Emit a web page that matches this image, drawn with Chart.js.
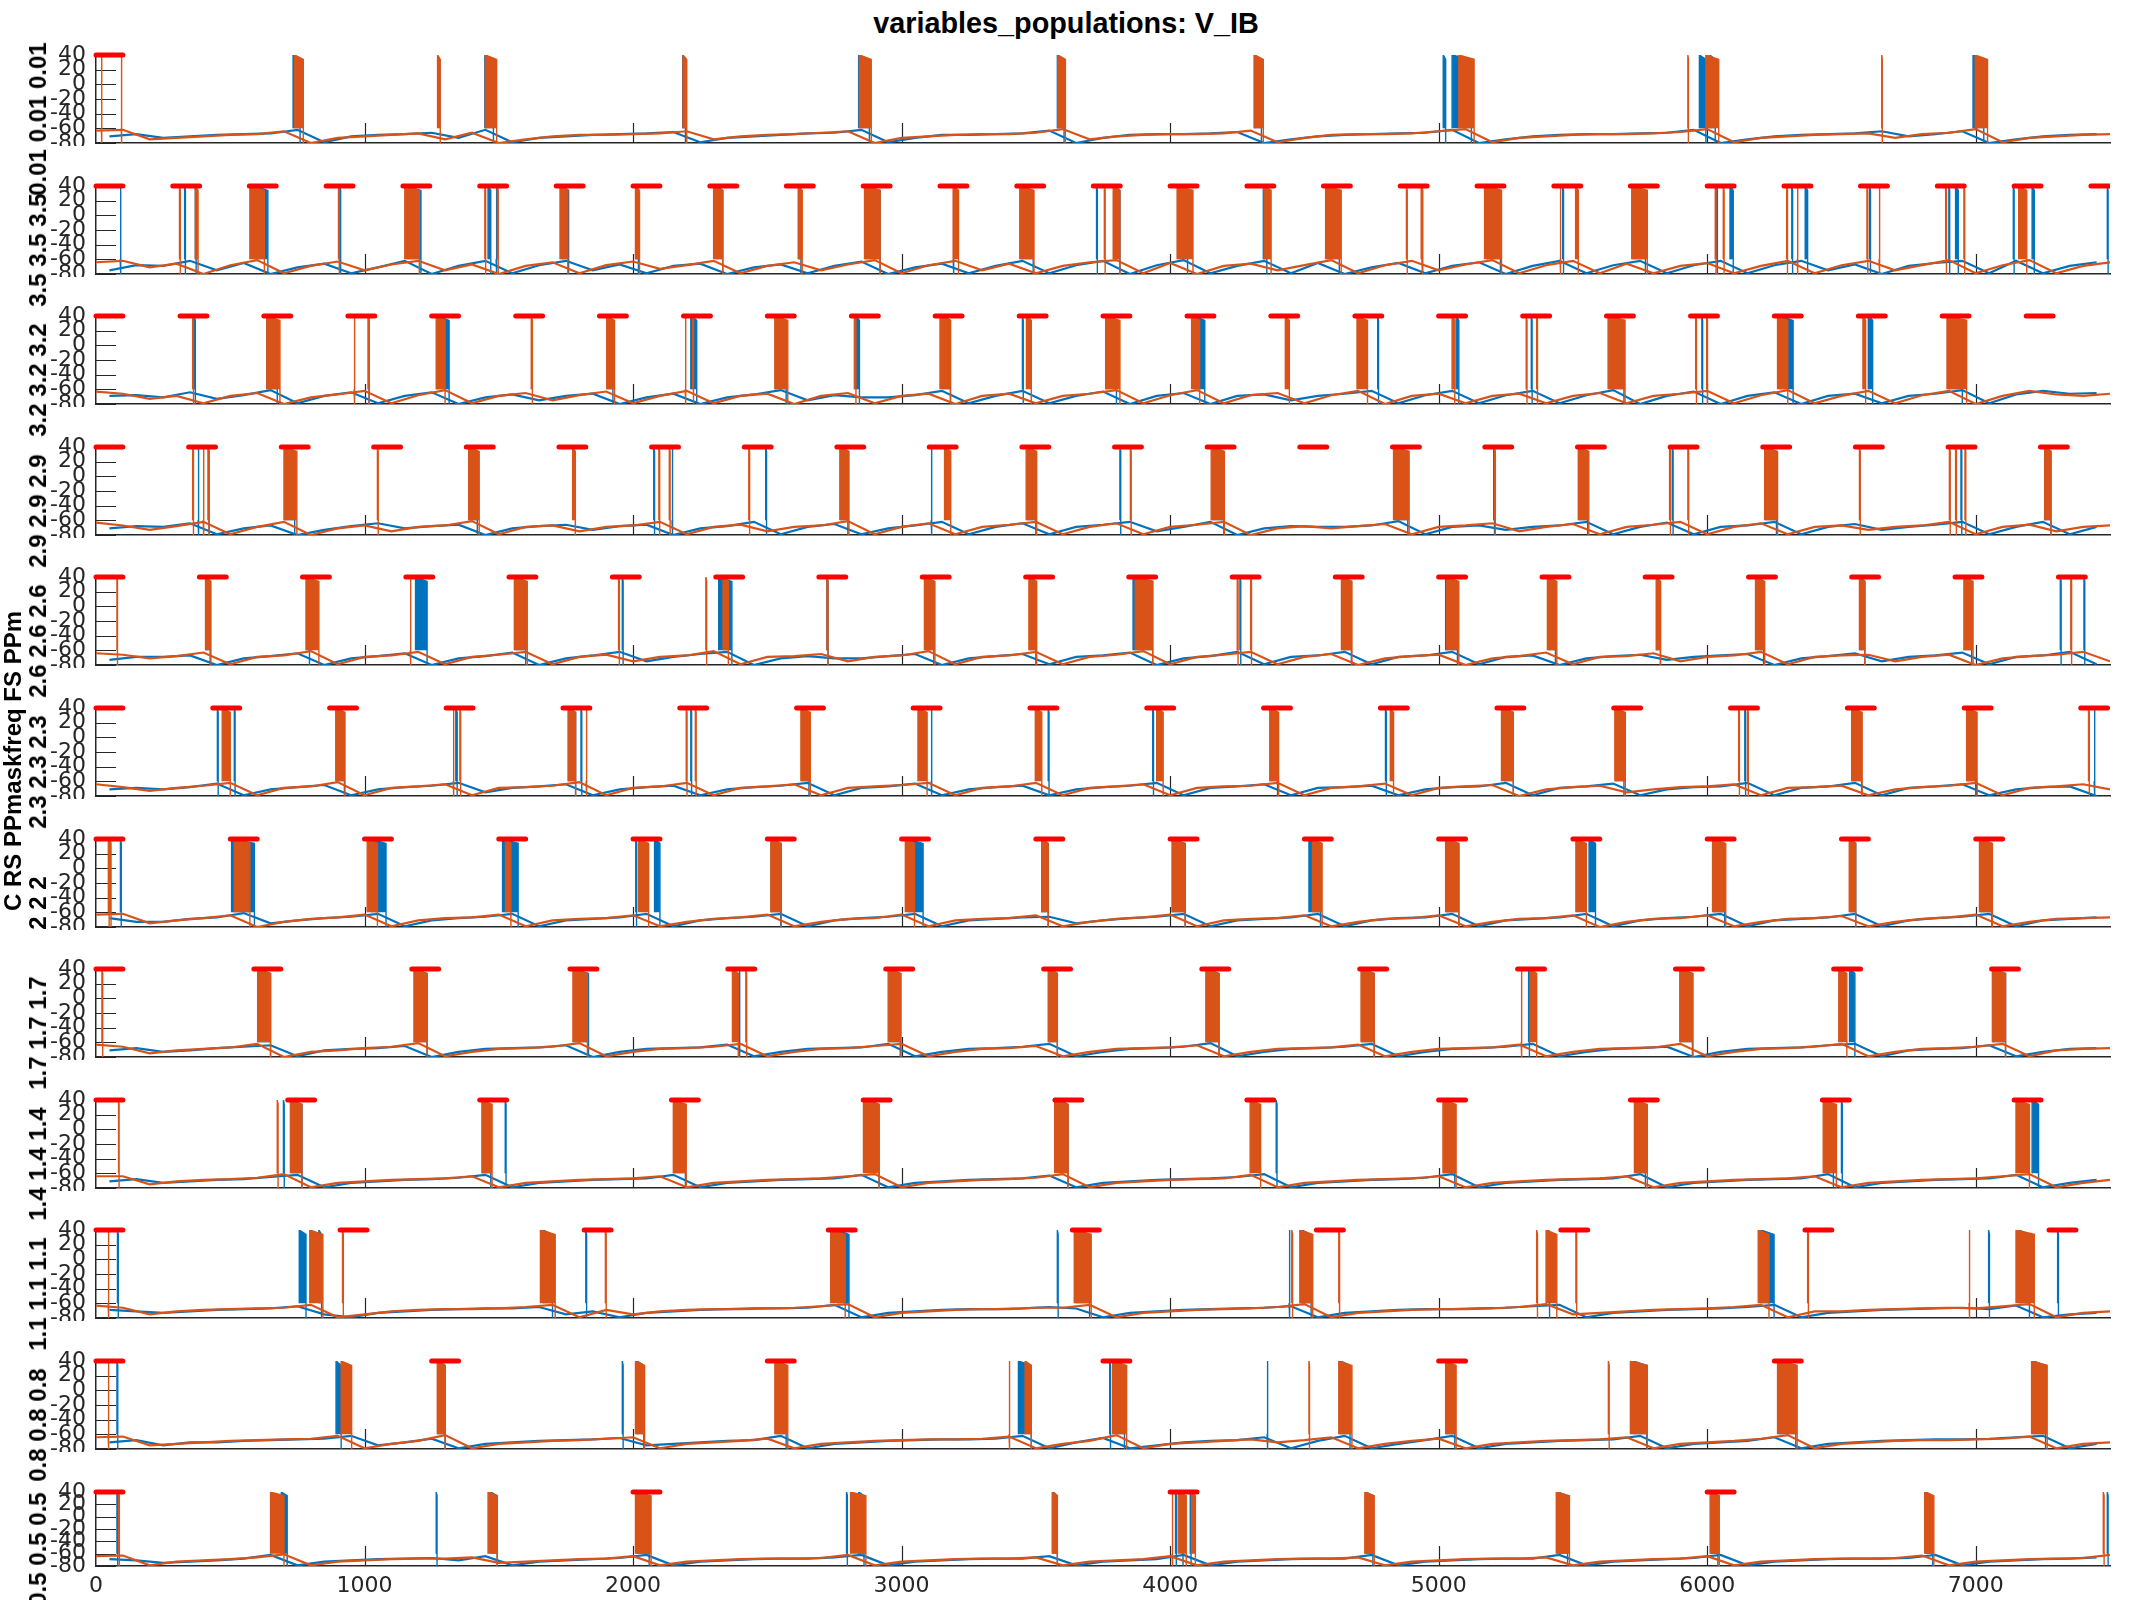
<!DOCTYPE html>
<html><head><meta charset="utf-8">
<script src="https://cdn.jsdelivr.net/npm/chart.js@4.4.1/dist/chart.umd.min.js"></script>
<style>
body{margin:0;background:#fff;}
#fig{position:relative;width:2133px;height:1600px;background:#fff;overflow:hidden;}
#fig canvas{position:absolute;left:0;}
.lbl{position:absolute;font-family:'Liberation Sans',Arial,sans-serif;font-weight:bold;color:#000;white-space:nowrap;transform:translate(-50%,-50%) rotate(-90deg);line-height:1;}
#title{position:absolute;left:1066px;top:9px;transform:translateX(-50%);font-family:'Liberation Sans',Arial,sans-serif;font-weight:bold;font-size:28.8px;color:#000;white-space:nowrap;line-height:1;}
</style></head><body><div id="fig"><div id="title">variables_populations: V_IB</div></div>
<script>
// ---------------- DATA ----------------
const stimFreq = ['0.01','3.5','3.2','2.9','2.6','2.3','2','1.7','1.4','1.1','0.8','0.5'];
const stimDuration = 100;
const yTicks = [-80,-60,-40,-20,0,20,40];
const xTicks = [0,1000,2000,3000,4000,5000,6000,7000];
const burstLevels = [-60, 40, 34, -80]; // floor, first spike peak, last spike peak, after-burst trough (mV)

const stim1 = [0];
const stim2 = [0,286,571,857,1143,1429,1714,2000,2286,2571,2857,3143,3429,3714,4000,4286,4571,4857,5143,5429,5714,6000,6286,6571,6857,7143,7429];
const stim3 = [0,313,625,938,1250,1563,1875,2188,2500,2813,3125,3438,3750,4063,4375,4688,5000,5313,5625,5938,6250,6563,6875,7188];
const stim4 = [0,345,690,1034,1379,1724,2069,2414,2759,3103,3448,3793,4138,4483,4828,5172,5517,5862,6207,6552,6897,7241];
const stim5 = [0,385,769,1154,1538,1923,2308,2692,3077,3462,3846,4231,4615,5000,5385,5769,6154,6538,6923,7308];
const stim6 = [0,435,870,1304,1739,2174,2609,3043,3478,3913,4348,4783,5217,5652,6087,6522,6957,7391];
const stim7 = [0,500,1000,1500,2000,2500,3000,3500,4000,4500,5000,5500,6000,6500,7000];
const stim8 = [0,588,1176,1765,2353,2941,3529,4118,4706,5294,5882,6471,7059];
const stim9 = [0,714,1429,2143,2857,3571,4286,5000,5714,6429,7143];
const stim10 = [0,909,1818,2727,3636,4545,5455,6364,7273];
const stim11 = [0,1250,2500,3750,5000,6250];
const stim12 = [0,2000,4000,6000];

// sub-threshold membrane potential, orange sampled at 0,100,...,7500 ms; blue at 50,150,...,7450 ms
const v1_orange = [-63,-62,-75,-73,-71,-69,-68,-64,-80,-73,-71,-69,-67,-75,-66,-80,-75,-71,-69,-69,-68,-67,-64,-75,-71,-69,-68,-66,-64,-80,-73,-71,-69,-68,-68,-66,-61,-75,-71,-69,-68,-68,-67,-63,-79,-73,-69,-68,-68,-67,-64,-61,-79,-73,-71,-69,-68,-68,-67,-65,-61,-79,-73,-71,-69,-68,-67,-73,-68,-66,-61,-79,-73,-71,-69,-68];
const v1_blue = [-71,-68,-73,-71,-69,-68,-67,-62,-79,-71,-69,-68,-66,-73,-62,-79,-73,-71,-69,-68,-67,-65,-79,-73,-71,-69,-67,-66,-62,-79,-73,-69,-69,-68,-67,-63,-80,-73,-69,-68,-68,-67,-65,-80,-75,-71,-69,-68,-67,-66,-62,-80,-75,-71,-69,-68,-68,-67,-66,-62,-80,-75,-71,-69,-68,-67,-64,-71,-68,-64,-80,-75,-71,-69,-68];
const v2_orange = [-64,-62,-71,-66,-80,-68,-61,-79,-69,-63,-75,-67,-62,-75,-67,-80,-69,-64,-79,-68,-63,-73,-68,-62,-79,-69,-64,-75,-67,-61,-79,-68,-62,-75,-66,-79,-69,-64,-61,-79,-65,-80,-69,-66,-75,-68,-61,-79,-68,-62,-75,-67,-61,-79,-68,-62,-79,-66,-79,-69,-65,-79,-69,-62,-79,-68,-62,-75,-68,-61,-79,-68,-61,-79,-69,-64];
const v2_blue = [-75,-68,-69,-62,-75,-65,-80,-71,-66,-79,-71,-62,-80,-69,-62,-79,-68,-62,-75,-67,-79,-69,-66,-80,-71,-67,-79,-69,-63,-80,-71,-66,-79,-69,-62,-79,-68,-62,-80,-68,-61,-79,-69,-62,-79,-65,-80,-71,-65,-79,-69,-64,-80,-69,-62,-79,-68,-62,-79,-68,-62,-79,-68,-62,-75,-67,-80,-69,-65,-62,-79,-62,-79,-69,-64];
const v3_orange = [-63,-66,-73,-69,-79,-69,-65,-80,-71,-67,-62,-79,-68,-61,-79,-69,-65,-75,-68,-63,-79,-69,-62,-79,-69,-66,-80,-69,-65,-79,-69,-66,-80,-69,-66,-79,-69,-66,-61,-79,-68,-61,-79,-68,-65,-79,-68,-62,-80,-69,-66,-79,-69,-66,-79,-69,-65,-79,-69,-66,-62,-79,-68,-61,-79,-69,-62,-79,-68,-62,-80,-69,-62,-67,-69,-66];
const v3_blue = [-69,-68,-71,-64,-73,-68,-61,-79,-69,-64,-79,-69,-64,-80,-71,-67,-75,-69,-66,-80,-71,-66,-80,-71,-67,-61,-75,-68,-71,-71,-68,-62,-79,-69,-62,-79,-69,-63,-80,-69,-65,-80,-69,-67,-75,-69,-66,-62,-79,-68,-62,-79,-68,-62,-79,-68,-61,-80,-69,-63,-80,-69,-64,-80,-69,-66,-79,-69,-66,-61,-79,-67,-62,-66,-65];
const v4_orange = [-63,-67,-73,-68,-62,-79,-69,-62,-80,-71,-67,-75,-69,-67,-61,-79,-69,-67,-75,-69,-67,-62,-79,-69,-66,-75,-69,-67,-61,-79,-69,-64,-79,-69,-66,-62,-79,-69,-64,-79,-69,-66,-62,-80,-71,-68,-71,-68,-65,-79,-69,-67,-64,-75,-69,-65,-79,-69,-66,-62,-79,-69,-64,-79,-69,-67,-73,-69,-67,-62,-79,-69,-66,-75,-69,-67];
const v4_blue = [-71,-68,-69,-64,-79,-71,-67,-80,-73,-68,-64,-71,-68,-66,-80,-71,-68,-66,-73,-68,-66,-80,-71,-68,-62,-79,-69,-65,-79,-71,-67,-62,-79,-69,-64,-79,-69,-66,-62,-75,-69,-62,-80,-71,-68,-69,-69,-67,-61,-79,-69,-67,-73,-69,-67,-62,-79,-69,-63,-79,-69,-67,-62,-79,-69,-65,-73,-69,-66,-62,-79,-69,-62,-79,-69];
const v5_orange = [-64,-66,-71,-68,-63,-79,-69,-67,-61,-79,-69,-67,-62,-79,-69,-66,-62,-79,-69,-66,-75,-69,-67,-61,-79,-69,-68,-65,-75,-69,-67,-61,-79,-69,-67,-62,-79,-69,-66,-61,-79,-69,-66,-62,-79,-69,-65,-80,-71,-68,-66,-80,-71,-68,-63,-79,-69,-68,-64,-75,-69,-67,-62,-79,-69,-67,-66,-75,-69,-66,-80,-71,-68,-66,-62,-75];
const v5_blue = [-73,-69,-69,-67,-80,-71,-68,-64,-80,-71,-68,-64,-80,-71,-68,-63,-80,-71,-67,-62,-75,-69,-65,-62,-80,-71,-68,-71,-71,-68,-65,-80,-71,-68,-65,-79,-69,-67,-63,-80,-71,-68,-62,-79,-69,-67,-62,-79,-69,-67,-62,-79,-69,-67,-80,-71,-68,-66,-73,-69,-67,-65,-80,-71,-68,-64,-75,-69,-67,-63,-79,-69,-67,-62,-79];
const v6_orange = [-64,-68,-73,-69,-66,-62,-79,-69,-67,-61,-79,-69,-67,-64,-79,-69,-68,-66,-61,-79,-69,-67,-62,-79,-69,-67,-64,-79,-69,-67,-65,-62,-79,-69,-67,-62,-79,-69,-67,-64,-79,-69,-67,-66,-62,-79,-69,-67,-63,-79,-69,-67,-65,-80,-71,-68,-66,-75,-71,-68,-67,-64,-79,-69,-68,-66,-79,-71,-68,-66,-62,-79,-69,-67,-64,-71];
const v6_blue = [-71,-69,-71,-68,-63,-79,-71,-68,-65,-79,-71,-68,-66,-62,-75,-69,-67,-64,-79,-71,-68,-66,-79,-71,-68,-66,-62,-79,-69,-67,-63,-79,-71,-68,-66,-79,-71,-68,-66,-62,-79,-69,-67,-64,-79,-69,-68,-66,-79,-71,-68,-67,-62,-79,-69,-67,-63,-79,-71,-68,-67,-62,-79,-69,-67,-62,-79,-69,-67,-64,-79,-71,-68,-67,-80];
const v7_orange = [-63,-62,-75,-71,-68,-64,-80,-73,-69,-67,-63,-79,-71,-68,-67,-63,-79,-71,-69,-68,-64,-79,-73,-69,-67,-63,-79,-73,-69,-68,-63,-79,-71,-69,-68,-64,-79,-73,-69,-67,-63,-79,-71,-69,-68,-64,-79,-73,-69,-68,-64,-79,-73,-69,-68,-64,-80,-73,-69,-68,-64,-79,-73,-69,-68,-65,-79,-73,-69,-67,-63,-79,-73,-69,-68,-67];
const v7_blue = [-68,-73,-73,-69,-67,-61,-75,-71,-68,-66,-62,-79,-71,-68,-66,-62,-79,-71,-69,-67,-62,-79,-71,-68,-66,-62,-79,-71,-68,-66,-62,-79,-71,-69,-67,-66,-75,-71,-68,-66,-62,-79,-71,-69,-67,-62,-79,-71,-68,-67,-62,-79,-71,-69,-67,-62,-79,-71,-68,-66,-62,-79,-71,-69,-67,-62,-79,-71,-68,-66,-62,-79,-71,-69,-67];
const v8_orange = [-63,-66,-75,-71,-69,-67,-62,-80,-73,-71,-68,-66,-61,-79,-73,-69,-68,-66,-61,-79,-73,-69,-68,-66,-62,-79,-73,-69,-68,-65,-62,-79,-73,-69,-68,-65,-79,-73,-69,-68,-67,-64,-79,-73,-69,-68,-67,-63,-79,-73,-69,-68,-67,-63,-79,-73,-69,-68,-67,-62,-79,-73,-69,-68,-66,-62,-79,-73,-69,-68,-66,-62,-79,-71,-69,-68];
const v8_blue = [-71,-68,-73,-71,-68,-66,-64,-79,-71,-69,-68,-65,-80,-73,-69,-68,-67,-64,-80,-73,-69,-68,-67,-63,-79,-73,-69,-68,-67,-62,-79,-73,-69,-68,-66,-62,-79,-73,-69,-68,-66,-61,-79,-73,-69,-68,-66,-62,-79,-73,-69,-68,-66,-62,-79,-73,-69,-68,-66,-80,-73,-69,-68,-67,-64,-62,-79,-71,-69,-68,-64,-79,-73,-69,-68];
const v9_orange = [-64,-64,-75,-71,-69,-68,-66,-61,-79,-73,-71,-69,-68,-67,-64,-79,-73,-71,-69,-68,-67,-64,-79,-73,-71,-69,-68,-67,-64,-61,-79,-73,-71,-69,-68,-66,-61,-79,-73,-71,-69,-68,-67,-62,-79,-73,-71,-69,-68,-67,-64,-79,-73,-71,-69,-68,-67,-64,-79,-73,-71,-69,-68,-67,-64,-79,-73,-71,-69,-68,-67,-64,-61,-79,-73,-69];
const v9_blue = [-71,-68,-73,-71,-69,-68,-65,-62,-79,-73,-71,-69,-68,-66,-62,-79,-73,-71,-69,-68,-67,-62,-79,-73,-71,-69,-68,-67,-62,-79,-73,-71,-69,-68,-67,-63,-79,-73,-71,-69,-68,-67,-65,-61,-79,-73,-71,-69,-68,-66,-61,-79,-73,-71,-69,-68,-67,-61,-79,-73,-71,-69,-68,-67,-61,-79,-73,-71,-69,-68,-67,-62,-79,-73,-69];
const v10_orange = [-63,-66,-75,-71,-69,-68,-67,-66,-62,-79,-75,-71,-69,-68,-68,-67,-65,-62,-79,-69,-75,-71,-69,-68,-68,-67,-66,-64,-61,-79,-73,-71,-69,-68,-68,-66,-66,-62,-79,-73,-71,-69,-68,-67,-65,-61,-79,-73,-71,-69,-68,-68,-67,-65,-61,-75,-73,-71,-69,-68,-67,-65,-62,-79,-71,-71,-69,-68,-67,-66,-67,-64,-61,-79,-73,-71];
const v10_blue = [-69,-71,-73,-71,-69,-68,-67,-64,-75,-79,-73,-71,-69,-68,-67,-67,-65,-75,-71,-79,-73,-71,-69,-68,-67,-67,-66,-62,-79,-73,-71,-69,-68,-68,-67,-65,-67,-79,-73,-71,-69,-68,-67,-66,-64,-79,-73,-71,-69,-68,-68,-67,-66,-64,-62,-79,-73,-71,-69,-68,-67,-65,-62,-79,-73,-71,-69,-68,-67,-66,-68,-63,-79,-75,-73];
const v11_orange = [-64,-63,-75,-73,-71,-69,-68,-67,-66,-62,-79,-73,-69,-61,-79,-73,-71,-69,-68,-66,-64,-79,-73,-71,-69,-66,-79,-73,-71,-69,-68,-67,-67,-66,-63,-79,-73,-69,-61,-79,-73,-71,-69,-67,-71,-68,-64,-79,-73,-69,-66,-79,-73,-71,-69,-68,-67,-64,-79,-73,-71,-69,-66,-61,-79,-73,-71,-69,-68,-68,-67,-66,-63,-79,-73,-71];
const v11_blue = [-71,-68,-75,-71,-71,-69,-68,-67,-66,-62,-75,-71,-66,-79,-73,-71,-69,-68,-67,-65,-75,-73,-71,-69,-68,-62,-79,-73,-71,-69,-68,-67,-67,-66,-62,-79,-71,-65,-79,-75,-71,-69,-68,-64,-79,-69,-62,-79,-73,-68,-62,-79,-73,-71,-69,-68,-67,-62,-79,-73,-71,-69,-64,-79,-73,-71,-69,-68,-67,-67,-66,-64,-62,-79,-73];
const v12_orange = [-64,-63,-79,-73,-71,-69,-66,-61,-79,-73,-71,-69,-68,-68,-66,-75,-73,-71,-69,-68,-64,-79,-73,-71,-69,-68,-68,-67,-62,-79,-73,-71,-69,-68,-68,-66,-79,-73,-71,-69,-64,-79,-73,-71,-69,-68,-68,-66,-79,-73,-71,-69,-68,-68,-66,-79,-73,-71,-69,-68,-64,-79,-73,-71,-69,-68,-68,-67,-63,-79,-73,-71,-69,-68,-67,-62];
const v12_blue = [-69,-71,-75,-73,-71,-68,-62,-79,-73,-71,-69,-68,-67,-71,-64,-79,-73,-71,-69,-67,-62,-79,-73,-71,-69,-68,-68,-66,-62,-79,-73,-71,-69,-68,-68,-64,-79,-73,-71,-69,-62,-79,-73,-71,-69,-68,-68,-62,-79,-73,-71,-69,-68,-68,-62,-79,-73,-71,-69,-67,-62,-79,-73,-71,-69,-68,-68,-67,-62,-79,-73,-71,-69,-68,-66];

// spike bursts [start ms, end ms]
const burst1_orange = [[20,22],[94,96],[740,772],[1272,1282],[1450,1492],[2186,2200],[2843,2887],[3582,3610],[4315,4347],[5075,5132],[5928,5930],[5995,6043],[6650,6652],[6998,7044]];
const burst1_blue = [[734,760],[1448,1480],[2185,2195],[2840,2880],[3580,3605],[4313,4340],[5017,5026],[5050,5122],[5971,5995],[6010,6030],[6990,7030]];
const burst2_orange = [[311,314],[370,380],[573,627],[903,906],[1150,1204],[1448,1451],[1495,1498],[1728,1757],[2009,2024],[2300,2334],[2615,2630],[2862,2920],[3192,3212],[3440,3493],[3755,3758],[3788,3813],[4026,4085],[4350,4376],[4579,4637],[4880,4883],[4935,4940],[5171,5234],[5452,5455],[5510,5520],[5719,5777],[6030,6033],[6060,6063],[6296,6299],[6335,6338],[6595,6598],[6640,6643],[6888,6891],[6956,6959],[7160,7190]];
const burst2_blue = [[90,93],[330,333],[370,373],[590,640],[908,911],[1160,1210],[1460,1470],[1490,1493],[1735,1760],[2012,2020],[2310,2334],[2618,2625],[2866,2920],[3192,3195],[3445,3490],[3726,3729],[3790,3813],[4035,4065],[4347,4360],[4585,4630],[4938,4941],[5180,5230],[5462,5465],[5725,5770],[6035,6038],[6085,6097],[6315,6318],[6365,6374],[6605,6608],[6900,6903],[6925,6935],[7140,7143],[7210,7218],[7490,7493]];
const burst3_orange = [[360,363],[636,685],[961,964],[1014,1017],[1267,1300],[1621,1625],[1902,1931],[2194,2197],[2222,2225],[2528,2576],[2824,2830],[3143,3182],[3465,3483],[3760,3813],[4080,4110],[4429,4444],[4696,4735],[5050,5060],[5326,5329],[5365,5368],[5631,5694],[5957,5960],[5998,6001],[6262,6300],[6580,6590],[6893,6966]];
const burst3_blue = [[365,370],[636,675],[1014,1017],[1270,1315],[1905,1925],[2215,2237],[2530,2570],[2830,2843],[3155,3182],[3450,3453],[3760,3800],[4090,4129],[4773,4776],[5065,5075],[5345,5348],[5640,5690],[5980,5983],[6270,6320],[6600,6616],[6900,6950]];
const burst4_orange = [[360,363],[399,402],[418,421],[700,748],[1048,1051],[1388,1427],[1775,1785],[2096,2099],[2135,2138],[2431,2434],[2770,2804],[3160,3183],[3464,3503],[3852,3855],[4153,4202],[4832,4890],[5208,5211],[5520,5559],[5860,5863],[5928,5931],[6214,6262],[6567,6570],[6902,6905],[6925,6928],[6960,6963],[7257,7280]];
const burst4_blue = [[380,383],[418,421],[705,740],[1390,1420],[2077,2080],[2145,2148],[2494,2497],[2775,2800],[3110,3113],[3470,3500],[3813,3816],[4160,4200],[4840,4885],[5205,5208],[5525,5555],[5870,5873],[6220,6258],[6945,6948],[7257,7280]];
const burst5_orange = [[78,80],[408,428],[782,830],[1170,1173],[1558,1606],[1946,1949],[2271,2274],[2335,2355],[2722,2726],[3085,3124],[3474,3503],[3870,3935],[4250,4253],[4300,4303],[4638,4677],[5030,5075],[5405,5440],[5811,5826],[6180,6214],[6567,6587],[6956,6990],[7354,7357]];
const burst5_blue = [[410,425],[790,795],[1190,1233],[1565,1600],[1960,1963],[2319,2368],[2722,2726],[3090,3120],[3480,3500],[3862,3935],[4260,4263],[4645,4675],[5026,5070],[5410,5435],[5811,5826],[6185,6210],[6570,6587],[6960,6985],[7315,7318],[7403,7406]];
const burst6_orange = [[470,500],[893,927],[1330,1333],[1355,1358],[1758,1786],[1825,1828],[2198,2201],[2232,2235],[2625,2660],[3061,3095],[3498,3522],[3950,3974],[4371,4404],[4820,4832],[5234,5278],[5656,5695],[6117,6120],[6150,6153],[6538,6577],[6966,7005],[7420,7423]];
const burst6_blue = [[452,455],[515,518],[895,925],[1340,1345],[1760,1786],[1806,1809],[2215,2218],[2630,2655],[3110,3113],[3546,3549],[3935,3938],[4375,4400],[4802,4805],[5244,5278],[5660,5690],[6140,6143],[6540,6575],[6970,7000],[7441,7444]];
const burst7_orange = [[46,49],[53,56],[515,573],[1010,1048],[1525,1545],[2020,2058],[2513,2552],[3014,3048],[3522,3546],[4007,4056],[4530,4566],[5026,5075],[5511,5550],[6020,6069],[6529,6553],[7014,7062]];
const burst7_blue = [[91,94],[505,590],[1025,1080],[1514,1572],[2010,2013],[2080,2100],[2515,2550],[3025,3080],[3522,3546],[4010,4056],[4517,4560],[5030,5075],[5560,5584],[6025,6065],[6535,6553],[7020,7060]];
const burst8_orange = [[22,25],[602,650],[1184,1233],[1776,1830],[2370,2392],[2420,2423],[2950,2998],[3546,3580],[4133,4182],[4711,4760],[5307,5310],[5340,5365],[5898,5947],[6490,6520],[7062,7111]];
const burst8_blue = [[605,650],[1190,1233],[1780,1834],[2395,2398],[2955,2995],[3550,3580],[4140,4182],[4715,4760],[5335,5338],[5900,5945],[6530,6550],[7065,7111]];
const burst9_orange = [[84,86],[675,678],[724,767],[1437,1475],[2150,2198],[2858,2916],[3570,3620],[4298,4337],[5016,5065],[5729,5777],[6432,6481],[7150,7200]];
const burst9_blue = [[698,701],[730,767],[1440,1470],[1524,1527],[2155,2195],[2880,2916],[3590,3620],[4395,4398],[5020,5060],[5740,5770],[6440,6470],[6500,6503],[7210,7234]];
const burst10_orange = [[45,48],[796,845],[918,921],[1655,1710],[1897,1900],[2736,2790],[3643,3706],[4453,4456],[4483,4531],[4628,4631],[5365,5368],[5400,5440],[5511,5514],[6190,6230],[6374,6377],[6975,6978],[7150,7218]];
const burst10_blue = [[80,83],[757,782],[830,840],[1665,1700],[1824,1827],[2760,2804],[3580,3583],[3650,3700],[4443,4446],[4490,4525],[5410,5413],[6200,6249],[7048,7051],[7160,7200],[7305,7308]];
const burst11_orange = [[45,48],[913,952],[1271,1300],[2009,2043],[2528,2576],[3400,3403],[3460,3483],[3786,3838],[4517,4519],[4628,4677],[5026,5065],[5632,5635],[5714,5777],[6262,6335],[7208,7266]];
const burst11_blue = [[78,81],[894,913],[1275,1300],[1960,1963],[2015,2040],[2535,2570],[3435,3483],[3775,3778],[3800,3830],[4361,4364],[4635,4670],[5030,5060],[5725,5775],[6270,6330],[7215,7260]];
const burst12_orange = [[84,87],[650,700],[1460,1494],[2009,2067],[2810,2867],[3561,3580],[4007,4010],[4030,4060],[4080,4094],[4725,4760],[5438,5487],[6011,6045],[6810,6844],[7475,7478]];
const burst12_blue = [[78,81],[690,712],[1267,1270],[1470,1494],[2015,2060],[2795,2798],[2840,2860],[3565,3580],[4020,4023],[4045,4048],[4075,4078],[4730,4755],[5445,5480],[6015,6040],[6815,6840],[7490,7493]];

// ---------------- LAYOUT ----------------
const FIG_W = 2133, AX_LEFT = 96, AX_RIGHT = 2110, PADT = 12;
const panelTop = [55,185.6,316.2,446.8,577.4,708,838.6,969.2,1099.8,1230.4,1361,1491.6];
const panelBot = [143,273.6,404.2,534.8,665.4,796,926.6,1057.2,1187.8,1318.4,1449,1566];
const BLUE = '#0072BD', ORANGE = '#D95319', RED = '#FF0000', AXC = '#262626';
const TICKFONT = "'DejaVu Sans', sans-serif";

const rows = [
  [stim1, v1_orange, v1_blue, burst1_orange, burst1_blue],
  [stim2, v2_orange, v2_blue, burst2_orange, burst2_blue],
  [stim3, v3_orange, v3_blue, burst3_orange, burst3_blue],
  [stim4, v4_orange, v4_blue, burst4_orange, burst4_blue],
  [stim5, v5_orange, v5_blue, burst5_orange, burst5_blue],
  [stim6, v6_orange, v6_blue, burst6_orange, burst6_blue],
  [stim7, v7_orange, v7_blue, burst7_orange, burst7_blue],
  [stim8, v8_orange, v8_blue, burst8_orange, burst8_blue],
  [stim9, v9_orange, v9_blue, burst9_orange, burst9_blue],
  [stim10, v10_orange, v10_blue, burst10_orange, burst10_blue],
  [stim11, v11_orange, v11_blue, burst11_orange, burst11_blue],
  [stim12, v12_orange, v12_blue, burst12_orange, burst12_blue]
];

function tracePoints(vals, t0){ return vals.map((v,k)=>({x:t0+k*100, y:v})); }
function burstPoints(list){
  const pts=[];
  list.forEach(([s,e])=>{
    pts.push({x:s,y:burstLevels[0]},{x:s,y:burstLevels[1]},{x:e,y:burstLevels[2]},{x:e,y:burstLevels[3]},{x:e,y:null});
  });
  return pts;
}
function stimPoints(onsets){
  const pts=[];
  onsets.forEach(o=>{ pts.push({x:o,y:40},{x:o+stimDuration,y:40},{x:o+stimDuration,y:null}); });
  return pts;
}

const innerTicks = {
  id:'innerTicks',
  beforeDatasetsDraw(chart){
    const {ctx, chartArea:a, scales:{x,y}} = chart;
    ctx.save(); ctx.strokeStyle=AXC; ctx.lineWidth=1.2; ctx.beginPath();
    y.ticks.forEach(t=>{ const py=Math.round(y.getPixelForValue(t.value))+0.5; ctx.moveTo(a.left,py); ctx.lineTo(a.left+20,py); });
    x.ticks.forEach(t=>{ if(t.value<=0) return; const px=Math.round(x.getPixelForValue(t.value))+0.5; ctx.moveTo(px,a.bottom); ctx.lineTo(px,a.bottom-20); });
    ctx.stroke(); ctx.restore();
  }
};

const fig = document.getElementById('fig');
rows.forEach((r,i)=>{
  const isLast = i===rows.length-1;
  const top = Math.round(panelTop[i]), bot = Math.round(panelBot[i]);
  const extra = isLast ? 40 : 3;
  const cv = document.createElement('canvas');
  cv.width = FIG_W; cv.height = (bot-top)+PADT+extra;
  cv.style.top = (top-PADT)+'px';
  fig.appendChild(cv);
  const [stim, vo, vb, bo, bb] = r;
  new Chart(cv, {
    type:'line',
    data:{datasets:[
      {data:stimPoints(stim), borderColor:RED, borderWidth:5, borderCapStyle:'round', pointRadius:0, spanGaps:false, clip:{left:5,top:8,right:0,bottom:0}},
      {data:burstPoints(bo), borderColor:ORANGE, backgroundColor:ORANGE, borderWidth:1.4, pointRadius:0, spanGaps:false, fill:{value:burstLevels[0]}},
      {data:tracePoints(vo,0), borderColor:ORANGE, borderWidth:2.2, pointRadius:0, fill:false},
      {data:burstPoints(bb), borderColor:BLUE, backgroundColor:BLUE, borderWidth:1.4, pointRadius:0, spanGaps:false, fill:{value:burstLevels[0]}},
      {data:tracePoints(vb,50), borderColor:BLUE, borderWidth:2.2, pointRadius:0, fill:false}
    ]},
    options:{
      responsive:false, animation:false, devicePixelRatio:1,
      layout:{padding:{top:PADT,left:0,right:FIG_W-AX_RIGHT,bottom:0}},
      plugins:{legend:{display:false},tooltip:{enabled:false},title:{display:false}},
      elements:{point:{radius:0},line:{tension:0}},
      scales:{
        x:{type:'linear',min:0,max:7500,
          afterBuildTicks:s=>{s.ticks = xTicks.map(v=>({value:v}));},
          ticks:{display:isLast,autoSkip:false,maxRotation:0,font:{family:TICKFONT,size:22},color:AXC,padding:7,callback:v=>String(v)},
          grid:{display:true,drawOnChartArea:false,drawTicks:false},
          border:{display:true,color:AXC,width:1.5},
          afterFit:s=>{s.height=extra; s.paddingLeft=0; s.paddingRight=0;}},
        y:{type:'linear',min:-80,max:40,
          afterBuildTicks:s=>{s.ticks = yTicks.map(v=>({value:v}));},
          ticks:{autoSkip:false,font:{family:TICKFONT,size:22},color:AXC,padding:10,callback:v=>String(v)},
          grid:{display:true,drawOnChartArea:false,drawTicks:false},
          border:{display:true,color:AXC,width:1.5},
          afterFit:s=>{s.width=AX_LEFT; s.paddingTop=0; s.paddingBottom=0;}}
      }
    },
    plugins:[innerTicks]
  });
  const lab = document.createElement('div');
  lab.className='lbl';
  lab.style.fontSize='24px';
  lab.style.left='38px';
  lab.style.top=((panelTop[i]+panelBot[i])/2+20)+'px';
  lab.textContent = stimFreq[i]+' '+stimFreq[i]+' '+stimFreq[i];
  fig.appendChild(lab);
});
const main = document.createElement('div');
main.className='lbl'; main.style.fontSize='24px'; main.style.left='13px'; main.style.top='761px';
main.textContent='C RS PPmaskfreq FS PPm';
fig.appendChild(main);
</script></body></html>
